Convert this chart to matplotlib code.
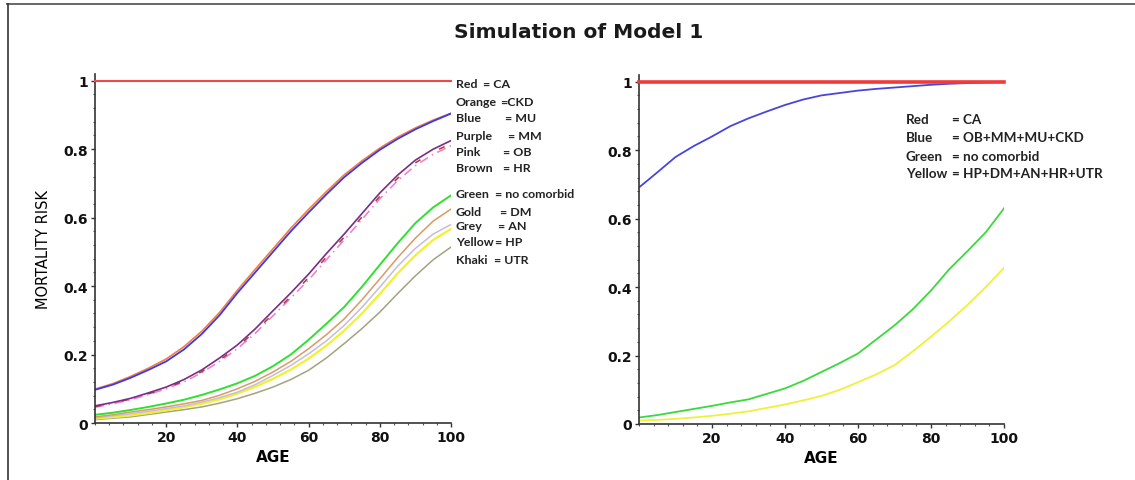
import matplotlib
matplotlib.use("Agg")
import matplotlib.pyplot as plt
from matplotlib.lines import Line2D
from matplotlib.ticker import MultipleLocator, FixedLocator

# ---------------- data ----------------
age = [0, 5, 10, 15, 20, 25, 30, 35, 40, 45, 50, 55, 60, 65, 70, 75, 80, 85, 90, 95, 100]

# left panel (individual comorbidities)
left_red    = [1] * 21
left_orange = [0.099, 0.115, 0.136, 0.160, 0.187, 0.223, 0.268, 0.323, 0.388, 0.449, 0.509,
               0.569, 0.624, 0.676, 0.725, 0.766, 0.803, 0.835, 0.862, 0.885, 0.905]
left_blue   = [0.097, 0.112, 0.132, 0.155, 0.180, 0.215, 0.260, 0.315, 0.380, 0.440, 0.500,
               0.560, 0.615, 0.668, 0.718, 0.760, 0.798, 0.830, 0.858, 0.882, 0.904]
left_purple = [0.050, 0.060, 0.072, 0.088, 0.105, 0.127, 0.155, 0.190, 0.228, 0.275, 0.328,
               0.380, 0.435, 0.495, 0.552, 0.612, 0.672, 0.724, 0.768, 0.800, 0.825]
left_pink   = [0.046, 0.056, 0.068, 0.083, 0.100, 0.120, 0.147, 0.180, 0.217, 0.262, 0.313,
               0.365, 0.418, 0.477, 0.535, 0.595, 0.655, 0.708, 0.752, 0.785, 0.810]
left_brown  = [0.048, 0.058, 0.070, 0.085, 0.102, 0.123, 0.150, 0.184, 0.222, 0.268, 0.318,
               0.370, 0.425, 0.485, 0.543, 0.602, 0.662, 0.715, 0.760, 0.792, 0.816]
left_green  = [0.024, 0.030, 0.038, 0.047, 0.057, 0.068, 0.082, 0.098, 0.116, 0.138, 0.166,
               0.200, 0.243, 0.290, 0.339, 0.398, 0.462, 0.525, 0.584, 0.630, 0.665]
left_gold   = [0.018, 0.024, 0.032, 0.039, 0.047, 0.056, 0.066, 0.081, 0.100, 0.122, 0.149,
               0.180, 0.217, 0.258, 0.304, 0.360, 0.421, 0.483, 0.540, 0.590, 0.625]
left_grey   = [0.015, 0.021, 0.027, 0.034, 0.042, 0.050, 0.061, 0.074, 0.090, 0.112, 0.139,
               0.168, 0.202, 0.240, 0.285, 0.338, 0.397, 0.458, 0.510, 0.552, 0.580]
left_yellow = [0.013, 0.017, 0.022, 0.029, 0.037, 0.046, 0.056, 0.069, 0.086, 0.106, 0.129,
               0.156, 0.188, 0.226, 0.270, 0.320, 0.377, 0.437, 0.490, 0.535, 0.567]
left_khaki  = [0.010, 0.014, 0.018, 0.025, 0.032, 0.039, 0.047, 0.058, 0.071, 0.087, 0.105,
               0.127, 0.154, 0.190, 0.232, 0.276, 0.324, 0.378, 0.430, 0.477, 0.514]

# right panel (grouped comorbidities)
right_red    = [1] * 21
right_blue   = [0.691, 0.735, 0.780, 0.812, 0.840, 0.870, 0.893, 0.913, 0.932, 0.948, 0.960,
                0.967, 0.974, 0.979, 0.983, 0.987, 0.991, 0.994, 0.996, 0.998, 0.999]
right_green  = [0.019, 0.026, 0.035, 0.044, 0.053, 0.063, 0.072, 0.088, 0.104, 0.126, 0.152,
                0.178, 0.206, 0.247, 0.288, 0.335, 0.390, 0.452, 0.505, 0.560, 0.630]
right_yellow = [0.010, 0.012, 0.015, 0.019, 0.024, 0.030, 0.037, 0.047, 0.057, 0.069, 0.082,
                0.100, 0.122, 0.145, 0.172, 0.212, 0.255, 0.300, 0.348, 0.400, 0.456]

y_ticks = [0, 0.2, 0.4, 0.6, 0.8, 1.0]
y_tick_labels = ["0", "0.2", "0.4", "0.6", "0.8", "1"]
x_ticks = [20, 40, 60, 80, 100]
x_tick_labels = ["20", "40", "60", "80", "100"]

left_legend_names = ["Red", "Orange", "Blue", "Purple", "Pink", "Brown",
                     "Green", "Gold", "Grey", "Yellow", "Khaki"]
left_legend_codes = ["= CA", "=CKD", "= MU", "= MM", "= OB", "= HR",
                     "= no comorbid", "= DM", "= AN", "= HP", "= UTR"]
right_legend_names = ["Red", "Blue", "Green", "Yellow"]
right_legend_codes = ["= CA", "= OB+MM+MU+CKD", "= no comorbid", "= HP+DM+AN+HR+UTR"]

title = "Simulation of Model 1"

# ---------------- figure ----------------
W, H = 1135, 481
fig = plt.figure(figsize=(W / 100, H / 100), dpi=100)
fig.patch.set_facecolor("white")

def fx(px):
    return px / W

def fy(py):
    return 1 - py / H

unit = 342.3
axL = fig.add_axes([fx(95), fy(424), fx(451) - fx(95), 1.02 * unit / H])
axR = fig.add_axes([fx(639), fy(425), fx(1004) - fx(639), 1.02 * unit / H])

tickfont = dict(family="DejaVu Sans", weight="bold", size=10)

for ax in (axL, axR):
    ax.set_xlim(0, 100)
    ax.set_ylim(0, 1.02)
    for s in ("top", "right"):
        ax.spines[s].set_visible(False)
    for s in ("left", "bottom"):
        ax.spines[s].set_color("#333333")
        ax.spines[s].set_linewidth(1.2)
    ax.yaxis.set_major_locator(FixedLocator(y_ticks))
    ax.set_yticklabels(y_tick_labels, fontdict=tickfont)
    ax.xaxis.set_major_locator(FixedLocator(x_ticks))
    ax.set_xticklabels(x_tick_labels, fontdict=tickfont)
    ax.yaxis.set_minor_locator(MultipleLocator(0.04))
    ax.xaxis.set_minor_locator(MultipleLocator(4))
    ax.tick_params(axis="both", which="major", direction="out", length=3,
                   width=1.0, color="#333333", pad=2, labelcolor="#111111")
    ax.tick_params(axis="both", which="minor", direction="out", length=1.5,
                   width=0.8, color="#555555")
    ax.set_xlabel("AGE", fontsize=11, fontweight="bold", labelpad=4)
    ax.set_facecolor("white")

axL.set_ylabel("MORTALITY RISK", fontsize=10.5, labelpad=9)

# left panel curves
axL.plot(age, left_red, color="#f04848", lw=1.5, zorder=3, clip_on=False)
axL.plot(age, left_khaki, color="#a3a381", lw=1.1)
axL.plot(age, left_yellow, color="#f2f22a", lw=1.6)
axL.plot(age, left_grey, color="#c4bcdc", lw=1.1)
axL.plot(age, left_gold, color="#d99a66", lw=1.1)
axL.plot(age, left_green, color="#30e030", lw=1.4)
axL.plot(age, left_pink, color="#f07cc4", lw=1.1, ls=(0, (6, 3, 1, 3)))
axL.plot(age, left_brown, color="#b03a3a", lw=1.1, ls=(0, (4, 14)))
axL.plot(age, left_purple, color="#7a2c86", lw=1.2)
axL.plot(age, left_orange, color="#f47c3c", lw=1.2)
axL.plot(age, left_blue, color="#3a3ae8", lw=1.3)

# right panel curves
axR.plot(age, right_yellow, color="#f0f038", lw=1.3)
axR.plot(age, right_green, color="#3cd83c", lw=1.3)
axR.plot(age, right_blue, color="#4646de", lw=1.3)
axR.plot(age, right_red, color="#f23a3a", lw=2.6, zorder=3, clip_on=False)

# legend texts (left)
left_rows_y = [85, 102, 119, 136, 152, 169, 194, 212, 227, 243, 261]
left_eq_x = [483, 500, 505, 508, 503, 503, 495, 500, 498, 495, 494]
legfont = dict(family=["Lato", "DejaVu Sans"], fontsize=8.9, fontweight="bold",
               color="#222222", va="center", ha="left")
for name, code, py, ex in zip(left_legend_names, left_legend_codes, left_rows_y, left_eq_x):
    fig.text(fx(456), fy(py), name, **legfont)
    fig.text(fx(ex), fy(py), code, **legfont)

# legend texts (right)
right_rows_y = [120, 138, 157, 174]
legfontR = dict(family=["Lato", "DejaVu Sans"], fontsize=9.7, fontweight="bold",
                color="#222222", va="center", ha="left")
for name, code, py in zip(right_legend_names, right_legend_codes, right_rows_y):
    fig.text(fx(906), fy(py), name, **legfontR)
    fig.text(fx(952), fy(py), code, **legfontR)

# title
fig.text(fx(579), fy(32), title, fontsize=14.5, fontweight="bold",
         color="#1a1a1a", ha="center", va="center")

# outer frame (top and left edges)
fig.add_artist(Line2D([fx(7), 1], [fy(4.5), fy(4.5)], color="#666666", lw=1.4))
fig.add_artist(Line2D([fx(7.5), fx(7.5)], [0, fy(4.5)], color="#333333", lw=1.2))

fig.savefig("out.png", dpi=100)
